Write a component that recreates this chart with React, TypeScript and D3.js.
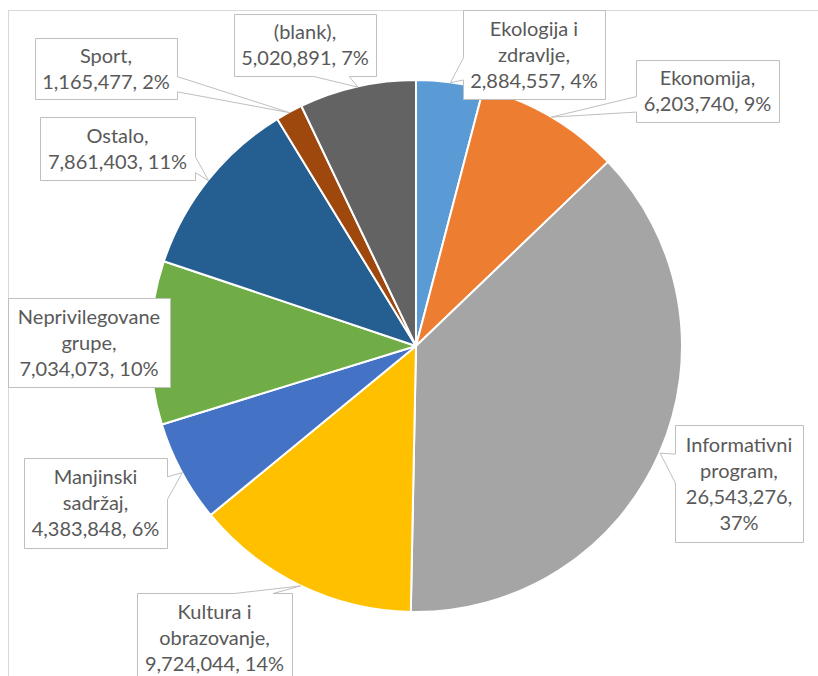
import React from "react";
import * as d3 from "d3";

const categories = [
  "Ekologija i zdravlje",
  "Ekonomija",
  "Informativni program",
  "Kultura i obrazovanje",
  "Manjinski sadržaj",
  "Neprivilegovane grupe",
  "Ostalo",
  "Sport",
  "(blank)",
];
const values = [2884557, 6203740, 26543276, 9724044, 4383848, 7034073, 7861403, 1165477, 5020891];
const colors = ["#5B9BD5", "#ED7D31", "#A5A5A5", "#FFC000", "#4472C4", "#70AD47", "#255E91", "#9E480E", "#636363"];
// words per line in each data label
const lineBreaks = [[2, 1, 2], [1, 2], [1, 1, 1, 1], [2, 1, 2], [1, 1, 2], [1, 1, 2], [1, 2], [1, 2], [1, 2]];

// label box layout: x, y, w, h, side of wedge
const labelLayout = [
  { x: 463, y: 10, w: 142, h: 89, side: "left" },
  { x: 636, y: 60, w: 143, h: 62, side: "left" },
  { x: 675, y: 425, w: 128, h: 117, side: "left" },
  { x: 137, y: 593, w: 155, h: 89, side: "top" },
  { x: 24, y: 458, w: 143, h: 90, side: "right" },
  { x: 8, y: 298, w: 162, h: 89, side: "none" },
  { x: 40, y: 117, w: 155, h: 63, side: "right" },
  { x: 35, y: 38, w: 142, h: 61, side: "right" },
  { x: 234, y: 14, w: 142, h: 62, side: "bottom" },
];

const W = 818;
const H = 676;
const cx = 416;
const cy = 346;
const R = 266;

function calloutPath(b: { x: number; y: number; w: number; h: number; side: string }, tip: [number, number]) {
  const x0 = b.x, y0 = b.y, x1 = b.x + b.w, y1 = b.y + b.h;
  const clamp = (v: number, a: number, c: number) => Math.max(a, Math.min(c, v));
  const pts: [number, number][] = [];
  if (b.side === "left") {
    const c = ((y0 + y1) / 2 + clamp(tip[1], y0, y1)) / 2;
    const hw = b.h * 0.125;
    pts.push([x0, y0], [x1, y0], [x1, y1], [x0, y1], [x0, c + hw], tip, [x0, c - hw]);
  } else if (b.side === "right") {
    const c = ((y0 + y1) / 2 + clamp(tip[1], y0, y1)) / 2;
    const hw = b.h * 0.125;
    pts.push([x0, y0], [x1, y0], [x1, c - hw], tip, [x1, c + hw], [x1, y1], [x0, y1]);
  } else if (b.side === "top") {
    const c = ((x0 + x1) / 2 + clamp(tip[0], x0, x1)) / 2;
    const hw = b.w * 0.125;
    pts.push([x0, y0], [c - hw, y0], tip, [c + hw, y0], [x1, y0], [x1, y1], [x0, y1]);
  } else if (b.side === "bottom") {
    const c = ((x0 + x1) / 2 + clamp(tip[0], x0, x1)) / 2;
    const hw = b.w * 0.125;
    pts.push([x0, y0], [x1, y0], [x1, y1], [c + hw, y1], tip, [c - hw, y1], [x0, y1]);
  } else {
    pts.push([x0, y0], [x1, y0], [x1, y1], [x0, y1]);
  }
  return "M" + pts.map((p) => p[0] + "," + p[1]).join("L") + "Z";
}

export default function App() {
  const total = d3.sum(values);
  const data = categories.map((c, i) => ({ name: c, value: values[i], color: colors[i], i }));
  const pie = d3.pie<any>().value((d) => d.value).sort(null);
  const arcs = pie(data);
  const arc = d3.arc<any>().innerRadius(0).outerRadius(R);
  const fmt = d3.format(",");

  return (
    <svg width={W} height={H} style={{ position: "absolute", left: 0, top: 0, background: "#fff" }}>
      <rect x={0} y={0} width={W} height={H} fill="#fff" />
      <rect x={8.5} y={10.5} width={W + 20} height={H + 20} fill="none" stroke="#D9D9D9" strokeWidth={1} />
      <g transform={`translate(${cx},${cy})`}>
        {arcs.map((a, i) => (
          <path key={i} d={arc(a) as string} fill={a.data.color} stroke="#fff" strokeWidth={2} strokeLinejoin="round" />
        ))}
      </g>
      {arcs.map((a, i) => {
        const mid = (a.startAngle + a.endAngle) / 2;
        const tip: [number, number] = [cx + R * Math.sin(mid), cy - R * Math.cos(mid)];
        const pct = Math.round((a.data.value / total) * 100);
        const words = `${a.data.name}, ${fmt(a.data.value)}, ${pct}%`.split(" ");
        const lines: string[] = [];
        let k = 0;
        lineBreaks[i].forEach((n) => {
          lines.push(words.slice(k, k + n).join(" "));
          k += n;
        });
        const b = labelLayout[i];
        const mx = b.x + b.w / 2;
        const my = b.y + b.h / 2;
        const lh = 26;
        return (
          <g key={"l" + i}>
            <path d={calloutPath(b, tip)} fill="#fff" stroke="#BFBFBF" strokeWidth={1} transform="translate(0.5,0.5)" />
            <text
              fontFamily="Lato, 'Open Sans', sans-serif"
              fontSize={20}
              fill="#595959"
              textAnchor="middle"
            >
              {lines.map((ln, j) => (
                <tspan key={j} x={mx} y={my + (j - (lines.length - 1) / 2) * lh} dy="0.35em">
                  {ln}
                </tspan>
              ))}
            </text>
          </g>
        );
      })}
    </svg>
  );
}
